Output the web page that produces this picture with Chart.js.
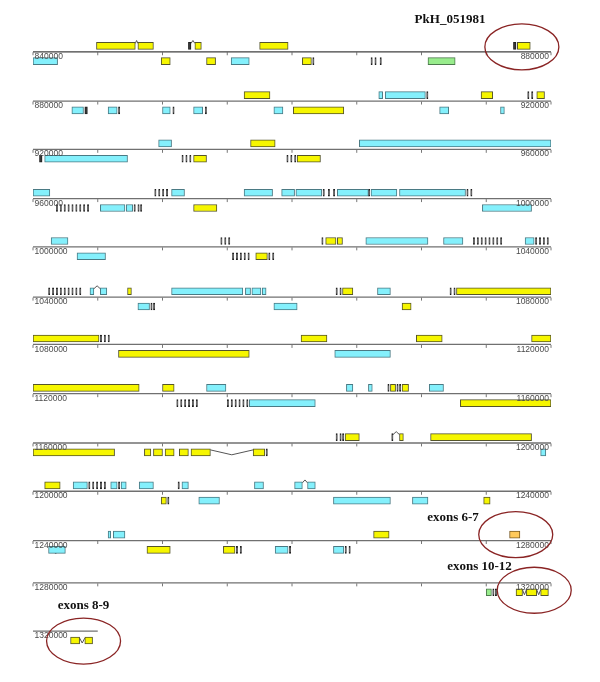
<!DOCTYPE html>
<html><head><meta charset="utf-8">
<script src="https://cdn.jsdelivr.net/npm/chart.js@4/dist/chart.umd.min.js"></script>
<style>html,body{margin:0;padding:0;background:#fff;}canvas{display:block;}</style>
</head><body>
<canvas id="c" width="600" height="682"></canvas>
<script>
// ---------------- DATA (genomic coordinates in kb) ----------------
const trackStarts = [840000, 880000, 920000, 960000, 1000000, 1040000, 1080000, 1120000, 1160000, 1200000, 1240000, 1280000, 1320000];
const trackLabels = ['840000','880000','920000','960000','1000000','1040000','1080000','1120000','1160000','1200000','1240000','1280000','1320000'];
const lastTrackEndKb = 1325;

const yellowFwd = [
 [844.9,847.9],[848.1,849.3],[852.5,853.0],[857.5,859.7],[877.4,878.4],
 [896.3,898.3],[914.6,915.5],[918.9,919.5],
 [936.8,938.7],
 [1022.6,1023.4],[1023.5,1023.9],
 [1047.3,1047.6],[1063.9,1064.7],[1072.7,1080.0],
 [1080.0,1085.1],[1100.7,1102.7],[1109.6,1111.6],[1118.5,1120.0],
 [1120.0,1128.2],[1130.0,1130.9],[1147.6,1148.0],[1148.5,1149.0],
 [1184.1,1185.2],[1188.3,1188.6],[1190.7,1198.5],
 [1200.9,1202.1],
 [1266.3,1267.5]
];
const yellowRev = [
 [849.9,850.6],[853.4,854.1],[860.8,861.5],
 [900.1,904.0],
 [932.4,933.4],[940.4,942.2],
 [972.4,974.2],
 [1017.2,1018.1],
 [1068.5,1069.2],
 [1086.6,1096.7],
 [1153.0,1160.0],
 [1160.0,1166.3],[1168.6,1169.1],[1169.3,1170.0],[1170.2,1170.9],[1171.3,1172.0],[1172.2,1173.7],[1177.0,1177.9],
 [1209.9,1210.3],[1234.8,1235.3],
 [1248.8,1250.6],[1254.7,1255.6],
 [1317.3,1317.8],[1318.1,1318.9],[1319.2,1319.8],
 [1322.9,1323.6],[1324.0,1324.6]
];
const cyanFwd = [
 [906.7,907.0],[907.2,910.3],
 [929.7,930.7],[945.2,960.0],
 [960.0,961.3],[970.7,971.7],[976.3,978.5],[979.2,980.2],[980.3,982.3],[983.5,985.9],[986.1,988.1],[988.3,993.4],
 [1001.4,1002.7],[1025.7,1030.5],[1031.7,1033.2],[1038.0,1038.7],
 [1044.4,1044.7],[1045.2,1045.7],[1050.7,1056.2],[1056.4,1056.8],[1056.9,1057.6],[1057.7,1058.0],[1066.6,1067.6],
 [1133.4,1134.9],[1144.2,1144.7],[1145.9,1146.2],[1150.6,1151.7],
 [1203.1,1204.2],[1206.0,1206.5],[1206.8,1207.2],[1208.2,1209.3],[1211.5,1212.0],[1217.1,1217.8],[1220.2,1220.8],[1221.2,1221.8],
 [1245.8,1246.0],[1246.2,1247.1]
];
const cyanRev = [
 [840.0,841.9],[855.3,856.7],
 [883.0,883.9],[885.8,886.5],[890.0,890.6],[892.4,893.1],[898.6,899.3],[911.4,912.1],[916.1,916.4],
 [920.9,927.3],
 [965.2,967.1],[967.2,967.7],[994.7,998.5],
 [1003.4,1005.6],
 [1048.1,1049.0],[1058.6,1060.4],
 [1103.3,1107.6],
 [1136.7,1141.8],
 [1199.2,1199.6],
 [1212.8,1214.4],[1223.2,1227.6],[1229.3,1230.5],
 [1241.2,1242.5],[1258.7,1259.7],[1263.2,1264.0]
];
const greenRev = [[870.5,872.6],[1315.0,1315.4]];
const orangeFwd = [[1276.8,1277.6]];
const tinyFwd = [
 [852.0,852.2],[877.1,877.3],
 [910.4,910.5],[918.2,918.3],[918.5,918.6],
 [969.4,969.5],[969.7,969.8],[970.0,970.1],[970.3,970.4],[982.4,982.5],[982.8,982.9],[983.2,983.3],[985.9,986.0],[993.5,993.6],[993.8,993.9],
 [1014.5,1014.6],[1014.8,1014.9],[1015.1,1015.2],[1022.3,1022.4],[1034.0,1034.1],[1034.3,1034.4],[1034.6,1034.7],[1034.9,1035.0],[1035.2,1035.3],[1035.5,1035.6],[1035.8,1035.9],[1036.1,1036.2],[1038.8,1038.9],[1039.1,1039.2],[1039.4,1039.5],[1039.7,1039.8],
 [1041.2,1041.3],[1041.5,1041.6],[1041.8,1041.9],[1042.1,1042.2],[1042.4,1042.5],[1042.7,1042.8],[1043.0,1043.1],[1043.3,1043.4],[1043.6,1043.7],[1063.4,1063.5],[1063.7,1063.8],[1072.2,1072.3],[1072.5,1072.6],
 [1085.2,1085.3],[1085.5,1085.6],[1085.8,1085.9],
 [1147.4,1147.5],[1148.1,1148.2],[1148.3,1148.4],
 [1183.4,1183.5],[1183.7,1183.8],[1183.9,1184.0],[1187.7,1187.8],
 [1204.3,1204.4],[1204.6,1204.7],[1204.9,1205.0],[1205.2,1205.3],[1205.5,1205.6],[1206.6,1206.7],[1211.2,1211.3]
];
const tinyRev = [
 [861.6,861.7],[866.1,866.2],[866.4,866.5],[866.8,866.9],
 [884.0,884.2],[886.6,886.7],[890.8,890.9],[893.3,893.4],
 [920.5,920.7],[931.5,931.6],[931.8,931.9],[932.1,932.2],[939.6,939.7],[939.9,940.0],[940.2,940.3],
 [961.8,961.9],[962.1,962.2],[962.4,962.5],[962.7,962.8],[963.0,963.1],[963.3,963.4],[963.6,963.7],[963.9,964.0],[964.2,964.3],[967.8,967.9],[968.1,968.2],[968.3,968.4],
 [1015.4,1015.5],[1015.7,1015.8],[1016.0,1016.1],[1016.3,1016.4],[1016.6,1016.7],[1018.2,1018.3],[1018.5,1018.6],
 [1049.1,1049.2],[1049.3,1049.4],
 [1131.1,1131.2],[1131.4,1131.5],[1131.7,1131.8],[1132.0,1132.1],[1132.3,1132.4],[1132.6,1132.7],[1135.0,1135.1],[1135.3,1135.4],[1135.6,1135.7],[1135.9,1136.0],[1136.2,1136.3],[1136.5,1136.6],
 [1178.0,1178.1],
 [1210.4,1210.5],
 [1241.7,1241.8],[1255.7,1255.8],[1256.0,1256.1],[1259.8,1259.9],[1264.1,1264.2],[1264.4,1264.5],
 [1315.5,1315.6],[1315.7,1315.8]
];
// intron connectors: [fromKb, toKb]
const intronsFwd = [[847.9,848.1],[852.2,852.5],[1044.7,1045.2],[1187.8,1188.3],[1220.8,1221.2]];
const intronsRev = [[1173.7,1177.0],[1317.8,1318.1],[1318.9,1319.2],[1323.6,1324.0]];
// highlighted groups (ellipse + caption)
const calloutLabels = ['PkH_051981','exons 6-7','exons 10-12','exons 8-9'];
const calloutRanges = [[877.1,878.4,1],[1276.8,1277.6,1],[1317.3,1319.8,-1],[1322.9,1324.6,-1]];

// ---------------- LAYOUT / STYLE ----------------
const TRACK_Y = [47, 97, 146, 196, 245, 296, 344, 394, 444, 493, 543, 586, 635];
const FWD_OFF = -5.5, REV_OFF = 10, BAR_H = 7;
const TRACK_LEN = 40000, TICK_STEP = 5000;
const CALLOUT_SHIFT = [[0,1],[1,0],[2,-2],[2,0.5]];
const CALLOUT_TEXT = [[450,20],[453,517.5],[479.5,567],[83.5,606]];

function rowOf(kb){ return Math.floor((kb*1000 - trackStarts[0]) / TRACK_LEN + 1e-6); }
function toBar(g, strand){
  const r = rowOf(g[0]), b = trackStarts[r];
  return {x:[g[0]*1000 - b, g[1]*1000 - b], y: TRACK_Y[r] + (strand > 0 ? FWD_OFF : REV_OFF)};
}
function barSet(list, strand, fill, border){
  return {type:'bar', indexAxis:'y', data:list.map(g => toBar(g, strand)),
    backgroundColor:fill, borderColor:border, borderWidth:1, borderSkipped:false,
    barThickness:BAR_H, maxBarThickness:BAR_H, grouped:false, order:1};
}
const datasets = [];
trackStarts.forEach((s, r) => {
  const end = r === trackStarts.length - 1 ? (lastTrackEndKb*1000 - s) : TRACK_LEN;
  datasets.push({type:'line', data:[{x:0, y:TRACK_Y[r]+0.5},{x:end, y:TRACK_Y[r]+0.5}],
    borderColor: r === 0 ? '#404040' : '#707070', borderWidth:1.3, pointRadius:0, clip:false, order:3});
});
const tickPts = [];
for (let r = 0; r < trackStarts.length - 1; r++) {
  for (let v = 0; v <= TRACK_LEN; v += TICK_STEP) tickPts.push({x:v, y:TRACK_Y[r] + 2.5});
}
datasets.push({type:'line', data:tickPts, showLine:false, pointStyle:'line', pointRotation:90,
  pointRadius:1.5, pointBorderColor:'#777', pointBorderWidth:1, clip:false, order:3});
function intronSet(list, strand){
  list.forEach(g => {
    const r = rowOf(g[0]), b = trackStarts[r];
    const cy = TRACK_Y[r] + (strand > 0 ? FWD_OFF : REV_OFF);
    const top = cy - BAR_H/2 + 1;
    const bend = strand > 0 ? -3 : 5;
    const a = g[0]*1000 - b, e = g[1]*1000 - b;
    datasets.push({type:'line', data:[{x:a,y:top},{x:(a+e)/2,y:top+bend},{x:e,y:top}],
      borderColor:'#555', borderWidth:1, pointRadius:0, tension:0, order:2});
  });
}
intronSet(intronsFwd, 1); intronSet(intronsRev, -1);
datasets.push(barSet(yellowFwd, 1, '#f6f600', '#55552a'));
datasets.push(barSet(yellowRev, -1, '#f6f600', '#55552a'));
datasets.push(barSet(cyanFwd, 1, '#84f0fc', '#4a7a84'));
datasets.push(barSet(cyanRev, -1, '#84f0fc', '#4a7a84'));
datasets.push(barSet(greenRev, -1, '#98ec8c', '#4d7a4d'));
datasets.push(barSet(orangeFwd, 1, '#ffc95a', '#7a5a22'));
datasets.push(barSet(tinyFwd, 1, '#3a3a3a', '#1e1e1e'));
datasets.push(barSet(tinyRev, -1, '#3a3a3a', '#1e1e1e'));

const overlay = {
  id:'overlay',
  afterDatasetsDraw(chart){
    const ctx = chart.ctx, xs = chart.scales.x, ys = chart.scales.y;
    ctx.save();
    ctx.fillStyle = '#4a4a4a';
    ctx.font = '8.5px "Liberation Sans", Arial, sans-serif';
    ctx.textBaseline = 'top';
    trackStarts.forEach((s, r) => {
      const py = ys.getPixelForValue(TRACK_Y[r]) + 1;
      ctx.textAlign = 'left';
      ctx.fillText(trackLabels[r], xs.getPixelForValue(0) + 1.5, py);
      if (r < trackStarts.length - 1) {
        ctx.textAlign = 'right';
        ctx.fillText(trackLabels[r+1], xs.getPixelForValue(TRACK_LEN) - 2, py);
      }
    });
    calloutRanges.forEach((g, i) => {
      const r = rowOf(g[0]), b = trackStarts[r];
      const cx = xs.getPixelForValue(((g[0]+g[1])/2)*1000 - b) + CALLOUT_SHIFT[i][0];
      const cy = ys.getPixelForValue(TRACK_Y[r] + (g[2] > 0 ? FWD_OFF : REV_OFF)) + CALLOUT_SHIFT[i][1];
      ctx.beginPath();
      ctx.ellipse(cx, cy, 37, 23, 0, 0, Math.PI*2);
      ctx.strokeStyle = '#8a2424'; ctx.lineWidth = 1.3; ctx.stroke();
      ctx.fillStyle = '#111';
      ctx.font = 'bold 13px "Liberation Serif", "Times New Roman", serif';
      ctx.textAlign = 'center'; ctx.textBaseline = 'middle';
      ctx.fillText(calloutLabels[i], CALLOUT_TEXT[i][0], CALLOUT_TEXT[i][1]);
    });
    ctx.restore();
  }
};

new Chart(document.getElementById('c'), {
  type:'bar',
  data:{datasets},
  options:{
    responsive:false, animation:false, devicePixelRatio:1, events:[],
    layout:{padding:{left:33, right:49, top:0, bottom:0}},
    scales:{
      x:{type:'linear', min:0, max:TRACK_LEN, display:false, offset:false, grace:0},
      y:{type:'linear', min:0, max:682, reverse:true, display:false, offset:false, grace:0}
    },
    plugins:{legend:{display:false}, tooltip:{enabled:false}, title:{display:false}}
  },
  plugins:[overlay]
});
</script>
</body></html>
